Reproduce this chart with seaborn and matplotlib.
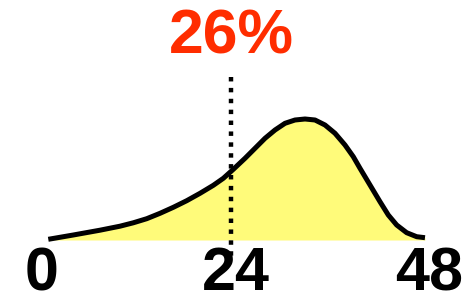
import matplotlib
matplotlib.use("Agg")
import matplotlib.pyplot as plt
import seaborn as sns
import pandas as pd

# dane (os x: godziny 0-48, os y: wysokosc gestosci)
krzywa_x = [0.78, 3.88, 7.19, 9.67, 11.32, 12.99, 14.64, 16.29, 17.95, 19.60,
            21.25, 22.49, 23.73, 25.18, 26.42, 27.66, 28.90, 30.14, 31.38, 32.62,
            33.86, 35.10, 36.34, 37.58, 38.61, 39.44, 40.68, 41.92, 42.95, 43.99,
            45.23, 46.47, 47.50]
krzywa_y = [0.7, 5, 9.8, 13.8, 17.2, 21.3, 26.7, 32.7, 39.3, 46.7,
            54.7, 61.7, 70.7, 81.7, 91.7, 101.7, 110, 116.7, 120, 121,
            120, 115, 106.7, 95, 83.3, 71.7, 55, 38.3, 25, 15,
            7.3, 3.3, 2.3]
progi = [0, 24, 48]
etykiety_progow = ["0", "24", "48"]
odciecie = 23.44
procent = "26%"

df = pd.DataFrame({"x": krzywa_x, "y": krzywa_y})

sns.set_theme(style="white")
plt.rcParams["font.family"] = ["Liberation Sans", "DejaVu Sans"]

fig = plt.figure(figsize=(4.69, 3.02), dpi=100)
ax = fig.add_axes([0, 0, 1, 1])

ax.fill_between(df["x"], 0, df["y"], color="#fffb7a", linewidth=0, zorder=1)
sns.lineplot(data=df, x="x", y="y", sort=False, color="black", linewidth=3.6,
             solid_capstyle="butt", solid_joinstyle="round", ax=ax, zorder=3)

# linia przerywana w punkcie odciecia
ax.plot([odciecie, odciecie], [163, -22], color="black", linewidth=3.2,
        linestyle=(0, (1, 1.45)), dash_capstyle="butt", zorder=2)

for p, t in zip(progi, etykiety_progow):
    ax.text(p, -35, t, ha="center", va="center", fontsize=44,
            fontweight="bold", color="black")

ax.text(odciecie, 203.5, procent, ha="center", va="center", fontsize=45,
        fontweight="bold", color="#ff2d00")

ax.set_xlim(-5.21, 52.96)
ax.set_ylim(-62, 240)
ax.axis("off")

fig.savefig("out.png", dpi=100, facecolor="white")
